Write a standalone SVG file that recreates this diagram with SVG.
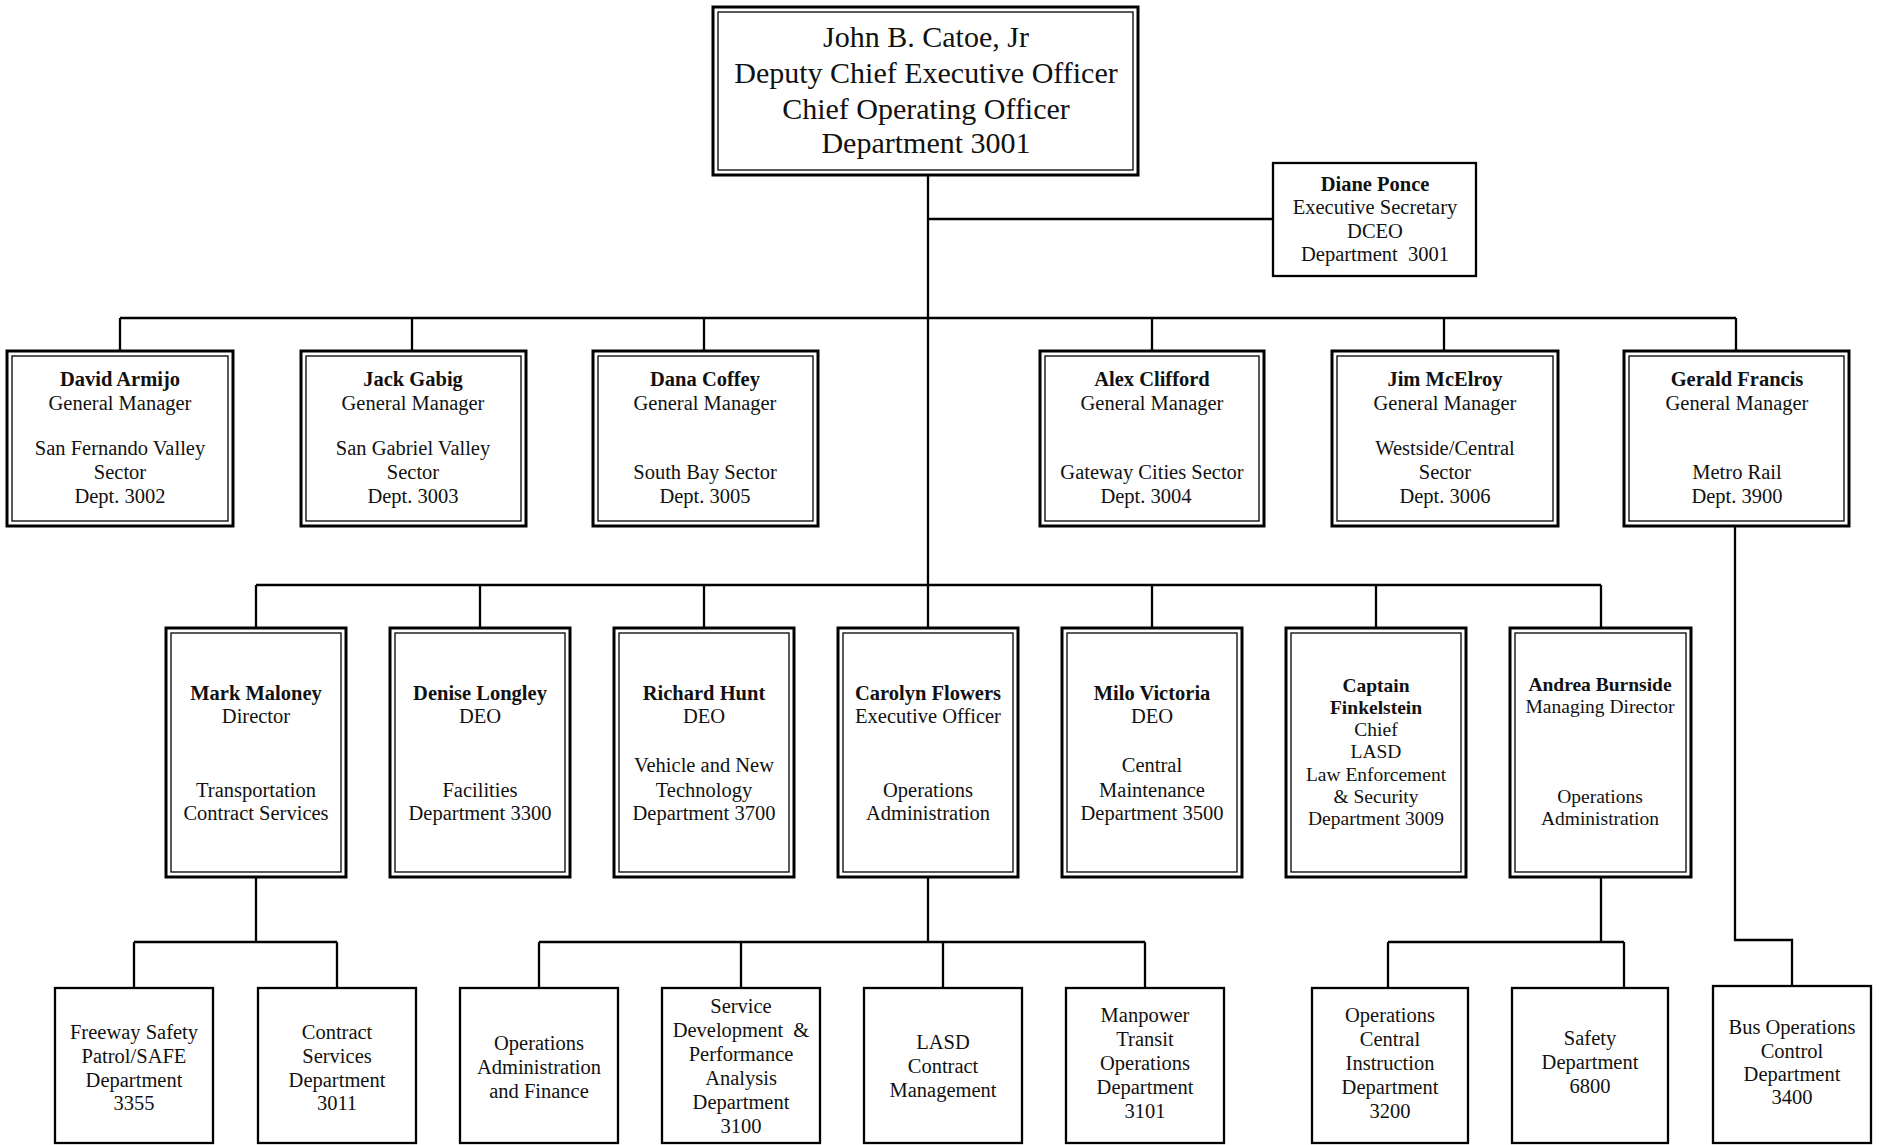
<svg xmlns="http://www.w3.org/2000/svg" width="1881" height="1145" viewBox="0 0 1881 1145">
<style>
.outer{fill:#fff;stroke:#000;stroke-width:3}
.inner{fill:none;stroke:#000;stroke-width:1.3}
.single{fill:#fff;stroke:#000;stroke-width:2.3}
.conn{fill:none;stroke:#000;stroke-width:2.3}
text{font-family:"Liberation Serif","Times New Roman",serif;text-anchor:middle;fill:#111}
.t30{font-size:30px}
.t20{font-size:20.5px}
.t19{font-size:19.5px}
.b{font-weight:bold}
</style>
<rect width="1881" height="1145" fill="#fff"/>
<g id="connectors">
<path class="conn" d="M928 175V628"/>
<path class="conn" d="M928 219H1273"/>
<path class="conn" d="M120 318H1736M120 318V351M412 318V351M704 318V351M1152 318V351M1444 318V351M1736 318V351"/>
<path class="conn" d="M256 585H1601M256 585V628M480 585V628M704 585V628M1152 585V628M1376 585V628M1601 585V628"/>
<path class="conn" d="M256 877V942M134 942H337M134 942V988M337 942V988"/>
<path class="conn" d="M928 877V942M539 942H1145M539 942V988M741 942V988M943 942V988M1145 942V988"/>
<path class="conn" d="M1601 877V942M1388 942H1624M1388 942V988M1624 942V988"/>
<path class="conn" d="M1735 526V940H1792V986"/>
</g>
<g id="n-catoe">
<rect class="outer" x="713" y="7" width="425" height="168"/>
<rect class="inner" x="718" y="12" width="415" height="158"/>
<text class="t30" x="926" y="47">John B. Catoe, Jr</text>
<text class="t30" x="926" y="83">Deputy Chief Executive Officer</text>
<text class="t30" x="926" y="119">Chief Operating Officer</text>
<text class="t30" x="926" y="153">Department 3001</text>
</g>
<g id="n-ponce">
<rect class="single" x="1273" y="163" width="203" height="113"/>
<text class="t20 b" x="1375" y="191">Diane Ponce</text>
<text class="t20" x="1375" y="214">Executive Secretary</text>
<text class="t20" x="1375" y="238">DCEO</text>
<text class="t20" x="1375" y="261" xml:space="preserve">Department  3001</text>
</g>
<g id="n-armijo">
<rect class="outer" x="7" y="351" width="226" height="175"/>
<rect class="inner" x="12" y="356" width="216" height="165"/>
<text class="t20 b" x="120" y="386">David Armijo</text>
<text class="t20" x="120" y="410">General Manager</text>
<text class="t20" x="120" y="455">San Fernando Valley</text>
<text class="t20" x="120" y="479">Sector</text>
<text class="t20" x="120" y="503">Dept. 3002</text>
</g>
<g id="n-gabig">
<rect class="outer" x="301" y="351" width="225" height="175"/>
<rect class="inner" x="306" y="356" width="215" height="165"/>
<text class="t20 b" x="413" y="386">Jack Gabig</text>
<text class="t20" x="413" y="410">General Manager</text>
<text class="t20" x="413" y="455">San Gabriel Valley</text>
<text class="t20" x="413" y="479">Sector</text>
<text class="t20" x="413" y="503">Dept. 3003</text>
</g>
<g id="n-coffey">
<rect class="outer" x="593" y="351" width="225" height="175"/>
<rect class="inner" x="598" y="356" width="215" height="165"/>
<text class="t20 b" x="705" y="386">Dana Coffey</text>
<text class="t20" x="705" y="410">General Manager</text>
<text class="t20" x="705" y="479">South Bay Sector</text>
<text class="t20" x="705" y="503">Dept. 3005</text>
</g>
<g id="n-clifford">
<rect class="outer" x="1040" y="351" width="224" height="175"/>
<rect class="inner" x="1045" y="356" width="214" height="165"/>
<text class="t20 b" x="1152" y="386">Alex Clifford</text>
<text class="t20" x="1152" y="410">General Manager</text>
<text class="t20" x="1152" y="479">Gateway Cities Sector</text>
<text class="t20" x="1146" y="503">Dept. 3004</text>
</g>
<g id="n-mcelroy">
<rect class="outer" x="1332" y="351" width="226" height="175"/>
<rect class="inner" x="1337" y="356" width="216" height="165"/>
<text class="t20 b" x="1445" y="386">Jim McElroy</text>
<text class="t20" x="1445" y="410">General Manager</text>
<text class="t20" x="1445" y="455">Westside/Central</text>
<text class="t20" x="1445" y="479">Sector</text>
<text class="t20" x="1445" y="503">Dept. 3006</text>
</g>
<g id="n-francis">
<rect class="outer" x="1624" y="351" width="225" height="175"/>
<rect class="inner" x="1629" y="356" width="215" height="165"/>
<text class="t20 b" x="1737" y="386">Gerald Francis</text>
<text class="t20" x="1737" y="410">General Manager</text>
<text class="t20" x="1737" y="479">Metro Rail</text>
<text class="t20" x="1737" y="503">Dept. 3900</text>
</g>
<g id="n-maloney">
<rect class="outer" x="166" y="628" width="180" height="249"/>
<rect class="inner" x="171" y="633" width="170" height="239"/>
<text class="t20 b" x="256" y="700">Mark Maloney</text>
<text class="t20" x="256" y="723">Director</text>
<text class="t20" x="256" y="797">Transportation</text>
<text class="t20" x="256" y="820">Contract Services</text>
</g>
<g id="n-longley">
<rect class="outer" x="390" y="628" width="180" height="249"/>
<rect class="inner" x="395" y="633" width="170" height="239"/>
<text class="t20 b" x="480" y="700">Denise Longley</text>
<text class="t20" x="480" y="723">DEO</text>
<text class="t20" x="480" y="797">Facilities</text>
<text class="t20" x="480" y="820">Department 3300</text>
</g>
<g id="n-hunt">
<rect class="outer" x="614" y="628" width="180" height="249"/>
<rect class="inner" x="619" y="633" width="170" height="239"/>
<text class="t20 b" x="704" y="700">Richard Hunt</text>
<text class="t20" x="704" y="723">DEO</text>
<text class="t20" x="704" y="772">Vehicle and New</text>
<text class="t20" x="704" y="797">Technology</text>
<text class="t20" x="704" y="820">Department 3700</text>
</g>
<g id="n-flowers">
<rect class="outer" x="838" y="628" width="180" height="249"/>
<rect class="inner" x="843" y="633" width="170" height="239"/>
<text class="t20 b" x="928" y="700">Carolyn Flowers</text>
<text class="t20" x="928" y="723">Executive Officer</text>
<text class="t20" x="928" y="797">Operations</text>
<text class="t20" x="928" y="820">Administration</text>
</g>
<g id="n-victoria">
<rect class="outer" x="1062" y="628" width="180" height="249"/>
<rect class="inner" x="1067" y="633" width="170" height="239"/>
<text class="t20 b" x="1152" y="700">Milo Victoria</text>
<text class="t20" x="1152" y="723">DEO</text>
<text class="t20" x="1152" y="772">Central</text>
<text class="t20" x="1152" y="797">Maintenance</text>
<text class="t20" x="1152" y="820">Department 3500</text>
</g>
<g id="n-finkelstein">
<rect class="outer" x="1286" y="628" width="180" height="249"/>
<rect class="inner" x="1291" y="633" width="170" height="239"/>
<text class="t19 b" x="1376" y="692">Captain</text>
<text class="t19 b" x="1376" y="714">Finkelstein</text>
<text class="t19" x="1376" y="736">Chief</text>
<text class="t19" x="1376" y="758">LASD</text>
<text class="t19" x="1376" y="781">Law Enforcement</text>
<text class="t19" x="1376" y="803">&amp; Security</text>
<text class="t19" x="1376" y="825">Department 3009</text>
</g>
<g id="n-burnside">
<rect class="outer" x="1510" y="628" width="181" height="249"/>
<rect class="inner" x="1515" y="633" width="171" height="239"/>
<text class="t19 b" x="1600" y="691">Andrea Burnside</text>
<text class="t19" x="1600" y="713">Managing Director</text>
<text class="t19" x="1600" y="803">Operations</text>
<text class="t19" x="1600" y="825">Administration</text>
</g>
<g id="n-freeway">
<rect class="single" x="55" y="988" width="158" height="155"/>
<text class="t20" x="134" y="1039">Freeway Safety</text>
<text class="t20" x="134" y="1063">Patrol/SAFE</text>
<text class="t20" x="134" y="1087">Department</text>
<text class="t20" x="134" y="1110">3355</text>
</g>
<g id="n-contract">
<rect class="single" x="258" y="988" width="158" height="155"/>
<text class="t20" x="337" y="1039">Contract</text>
<text class="t20" x="337" y="1063">Services</text>
<text class="t20" x="337" y="1087">Department</text>
<text class="t20" x="337" y="1110">3011</text>
</g>
<g id="n-opsadmin">
<rect class="single" x="460" y="988" width="158" height="155"/>
<text class="t20" x="539" y="1050">Operations</text>
<text class="t20" x="539" y="1074">Administration</text>
<text class="t20" x="539" y="1098">and Finance</text>
</g>
<g id="n-service">
<rect class="single" x="662" y="988" width="158" height="155"/>
<text class="t20" x="741" y="1013">Service</text>
<text class="t20" x="741" y="1037" xml:space="preserve">Development  &amp;</text>
<text class="t20" x="741" y="1061">Performance</text>
<text class="t20" x="741" y="1085">Analysis</text>
<text class="t20" x="741" y="1109">Department</text>
<text class="t20" x="741" y="1133">3100</text>
</g>
<g id="n-lasd">
<rect class="single" x="864" y="988" width="158" height="155"/>
<text class="t20" x="943" y="1049">LASD</text>
<text class="t20" x="943" y="1073">Contract</text>
<text class="t20" x="943" y="1097">Management</text>
</g>
<g id="n-manpower">
<rect class="single" x="1066" y="988" width="158" height="155"/>
<text class="t20" x="1145" y="1022">Manpower</text>
<text class="t20" x="1145" y="1046">Transit</text>
<text class="t20" x="1145" y="1070">Operations</text>
<text class="t20" x="1145" y="1094">Department</text>
<text class="t20" x="1145" y="1118">3101</text>
</g>
<g id="n-opscentral">
<rect class="single" x="1312" y="988" width="156" height="155"/>
<text class="t20" x="1390" y="1022">Operations</text>
<text class="t20" x="1390" y="1046">Central</text>
<text class="t20" x="1390" y="1070">Instruction</text>
<text class="t20" x="1390" y="1094">Department</text>
<text class="t20" x="1390" y="1118">3200</text>
</g>
<g id="n-safety">
<rect class="single" x="1512" y="988" width="156" height="155"/>
<text class="t20" x="1590" y="1045">Safety</text>
<text class="t20" x="1590" y="1069">Department</text>
<text class="t20" x="1590" y="1093">6800</text>
</g>
<g id="n-busops">
<rect class="single" x="1713" y="986" width="158" height="157"/>
<text class="t20" x="1792" y="1034">Bus Operations</text>
<text class="t20" x="1792" y="1058">Control</text>
<text class="t20" x="1792" y="1081">Department</text>
<text class="t20" x="1792" y="1104">3400</text>
</g>
</svg>
